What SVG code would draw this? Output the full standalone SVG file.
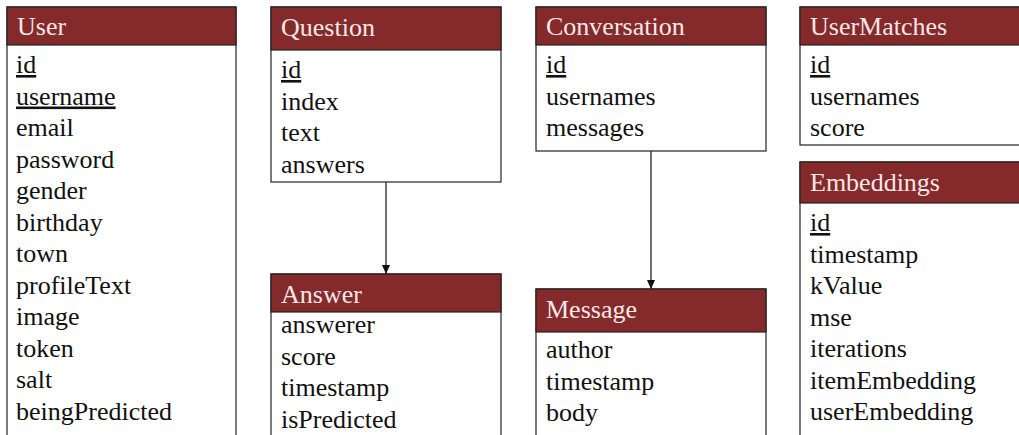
<svg xmlns="http://www.w3.org/2000/svg" width="1019" height="435" viewBox="0 0 1019 435">
<style>
.box{fill:#fff;stroke:#222;stroke-width:1.2}
.hdr{fill:#852a2a;stroke:#222;stroke-width:1.2}
.ht{fill:#f6e8e8}
.t{fill:#111}
.k{text-decoration:underline}
.c{stroke:#111;stroke-width:1.2;fill:none}
</style>
<defs>
<marker id="ah" markerWidth="10" markerHeight="10" refX="9" refY="5" orient="auto" markerUnits="userSpaceOnUse">
<path d="M0,1 L9,5 L0,9 z" fill="#111"/>
</marker>
</defs>
<g id="connectors">
<line class="c" x1="386" y1="182" x2="386" y2="274" marker-end="url(#ah)"/>
<line class="c" x1="651" y1="151" x2="651" y2="289" marker-end="url(#ah)"/>
</g>
<g font-family="Liberation Serif, DejaVu Serif, serif" font-size="26">
<g id="User">
<rect class="box" x="7" y="7" width="229" height="440"/>
<rect class="hdr" x="7" y="7" width="229" height="38"/>
<text class="ht" x="17" y="35">User</text>
<text class="t k" x="16" y="73">id</text>
<text class="t k" x="16" y="104.5">username</text>
<text class="t" x="16" y="136">email</text>
<text class="t" x="16" y="167.5">password</text>
<text class="t" x="16" y="199">gender</text>
<text class="t" x="16" y="230.5">birthday</text>
<text class="t" x="16" y="262">town</text>
<text class="t" x="16" y="293.5">profileText</text>
<text class="t" x="16" y="325">image</text>
<text class="t" x="16" y="356.5">token</text>
<text class="t" x="16" y="388">salt</text>
<text class="t" x="16" y="419.5">beingPredicted</text>
</g>
<g id="Question">
<rect class="box" x="271" y="7" width="230" height="175"/>
<rect class="hdr" x="271" y="7" width="230" height="43"/>
<text class="ht" x="281" y="36">Question</text>
<text class="t k" x="281" y="78">id</text>
<text class="t" x="281" y="109.5">index</text>
<text class="t" x="281" y="141">text</text>
<text class="t" x="281" y="172.5">answers</text>
</g>
<g id="Conversation">
<rect class="box" x="536" y="7" width="230" height="144"/>
<rect class="hdr" x="536" y="7" width="230" height="38"/>
<text class="ht" x="546" y="35">Conversation</text>
<text class="t k" x="546" y="73">id</text>
<text class="t" x="546" y="104.5">usernames</text>
<text class="t" x="546" y="136">messages</text>
</g>
<g id="UserMatches">
<rect class="box" x="800" y="7" width="230" height="138"/>
<rect class="hdr" x="800" y="7" width="230" height="38"/>
<text class="ht" x="810" y="35">UserMatches</text>
<text class="t k" x="810" y="73">id</text>
<text class="t" x="810" y="104.5">usernames</text>
<text class="t" x="810" y="136">score</text>
</g>
<g id="Embeddings">
<rect class="box" x="800" y="162" width="230" height="290"/>
<rect class="hdr" x="800" y="162" width="230" height="41"/>
<text class="ht" x="810" y="191">Embeddings</text>
<text class="t k" x="810" y="231">id</text>
<text class="t" x="810" y="262.5">timestamp</text>
<text class="t" x="810" y="294">kValue</text>
<text class="t" x="810" y="325.5">mse</text>
<text class="t" x="810" y="357">iterations</text>
<text class="t" x="810" y="388.5">itemEmbedding</text>
<text class="t" x="810" y="420">userEmbedding</text>
</g>
<g id="Answer">
<rect class="box" x="271" y="274" width="230" height="180"/>
<rect class="hdr" x="271" y="274" width="230" height="38"/>
<text class="ht" x="281" y="303">Answer</text>
<text class="t" x="281" y="333">answerer</text>
<text class="t" x="281" y="364.5">score</text>
<text class="t" x="281" y="396">timestamp</text>
<text class="t" x="281" y="427.5">isPredicted</text>
</g>
<g id="Message">
<rect class="box" x="536" y="289" width="230" height="170"/>
<rect class="hdr" x="536" y="289" width="230" height="43"/>
<text class="ht" x="546" y="318">Message</text>
<text class="t" x="546" y="358">author</text>
<text class="t" x="546" y="389.5">timestamp</text>
<text class="t" x="546" y="421">body</text>
</g>
</g>
</svg>
